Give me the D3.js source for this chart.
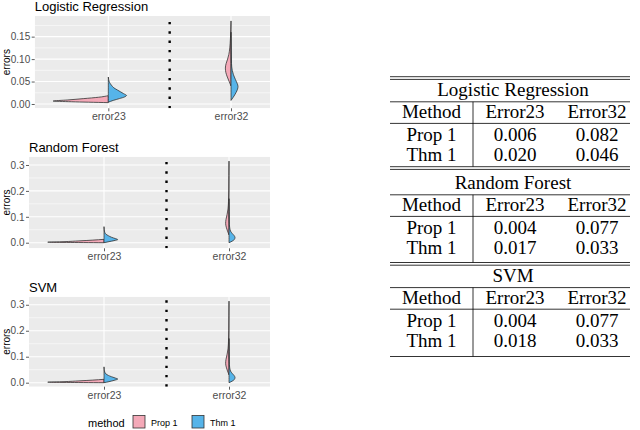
<!DOCTYPE html>
<html>
<head>
<meta charset="utf-8">
<script src="https://cdn.jsdelivr.net/npm/d3@7"></script>
<style>
  body { margin: 0; background: #fff; }
</style>
</head>
<body>
<div id="chart"></div>
<script>
const W = 640, H = 430;

const panelTitles = ["Logistic Regression", "Random Forest", "SVM"];
const categories = ["error23", "error32"];
const methods = ["Prop 1", "Thm 1"];
const lrTicks = [0, 0.05, 0.10, 0.15];
const rfTicks = [0, 0.1, 0.2, 0.3];
const svmTicks = [0, 0.1, 0.2, 0.3];

// violin halves: [errors, half width in category units]
const lrProp23 = [[0.003, 0], [0.005, 0.3], [0.0065, 0.45], [0.009, 0.33], [0.012, 0.2], [0.015, 0.08], [0.0185, 0]];
const lrThm23 = [[0.004, 0], [0.008, 0.04], [0.012, 0.09], [0.016, 0.135], [0.019, 0.148], [0.023, 0.125], [0.027, 0.1],
                 [0.031, 0.075], [0.036, 0.045], [0.042, 0.025], [0.048, 0.01], [0.054, 0.003], [0.06, 0]];
const lrProp32 = [[0.04, 0], [0.05, 0.015], [0.06, 0.03], [0.07, 0.042], [0.08, 0.046], [0.09, 0.04], [0.1, 0.028],
                  [0.11, 0.018], [0.125, 0.01], [0.145, 0.005], [0.165, 0.002], [0.185, 0]];
const lrThm32 = [[0.008, 0], [0.015, 0.018], [0.025, 0.04], [0.033, 0.053], [0.039, 0.057], [0.046, 0.05], [0.055, 0.035],
                 [0.065, 0.02], [0.075, 0.01], [0.09, 0.004], [0.12, 0.0015], [0.16, 0]];

const rfProp23 = [[0, 0], [0.001, 0.3], [0.002, 0.45], [0.004, 0.32], [0.007, 0.2], [0.01, 0.09], [0.013, 0]];
const rfThm23 = [[0, 0], [0.004, 0.04], [0.008, 0.08], [0.012, 0.11], [0.016, 0.09], [0.021, 0.06], [0.027, 0.035],
                 [0.033, 0.015], [0.04, 0.006], [0.05, 0.002], [0.062, 0]];
const rfProp32 = [[0.03, 0], [0.045, 0.012], [0.06, 0.022], [0.075, 0.027], [0.09, 0.024], [0.11, 0.015], [0.13, 0.008],
                  [0.16, 0.004], [0.2, 0.002], [0.26, 0.001], [0.315, 0]];
const rfThm32 = [[0, 0], [0.006, 0.025], [0.012, 0.042], [0.02, 0.048], [0.028, 0.04], [0.036, 0.025], [0.045, 0.012],
                 [0.06, 0.005], [0.08, 0.002], [0.12, 0.001], [0.17, 0]];

const svmProp23 = [[0, 0], [0.001, 0.3], [0.002, 0.45], [0.004, 0.32], [0.007, 0.2], [0.01, 0.09], [0.013, 0]];
const svmThm23 = [[0, 0], [0.004, 0.04], [0.009, 0.08], [0.014, 0.11], [0.018, 0.09], [0.023, 0.06], [0.028, 0.035],
                  [0.034, 0.015], [0.041, 0.006], [0.05, 0.002], [0.061, 0]];
const svmProp32 = [[0.03, 0], [0.045, 0.012], [0.06, 0.022], [0.075, 0.027], [0.09, 0.024], [0.11, 0.015], [0.13, 0.008],
                   [0.16, 0.004], [0.2, 0.002], [0.26, 0.001], [0.314, 0]];
const svmThm32 = [[0, 0], [0.006, 0.025], [0.012, 0.042], [0.02, 0.048], [0.028, 0.04], [0.036, 0.025], [0.045, 0.012],
                  [0.06, 0.005], [0.08, 0.002], [0.12, 0.001], [0.17, 0]];

// table
const tableMethods = ["Prop 1", "Thm 1"];
const tableHeader = ["Method", "Error23", "Error32"];
const lrErr23 = [0.006, 0.020], lrErr32 = [0.082, 0.046];
const rfErr23 = [0.004, 0.017], rfErr32 = [0.077, 0.033];
const svmErr23 = [0.004, 0.018], svmErr32 = [0.077, 0.033];

const SANS = "'Liberation Sans', Arial, sans-serif";
const SERIF = "'Liberation Serif', 'Times New Roman', serif";
const FILLS = ["#F4A9B8", "#56B4E9"];
const PANEL_RIGHT = 270;

const PANELS = [
  {title: panelTitles[0], ticks: lrTicks, fmt: ".2f", yDomain: [-0.0096, 0.196], top: 16, bottom: 108.3, left: 34.7, unit: 122.7,
   violins: [[lrProp23, lrThm23], [lrProp32, lrThm32]]},
  {title: panelTitles[1], ticks: rfTicks, fmt: ".1f", yDomain: [-0.0216, 0.332], top: 156.7, bottom: 248.3, left: 29, unit: 125,
   violins: [[rfProp23, rfThm23], [rfProp32, rfThm32]]},
  {title: panelTitles[2], ticks: svmTicks, fmt: ".1f", yDomain: [-0.0154, 0.331], top: 296.7, bottom: 386.7, left: 29, unit: 125,
   violins: [[svmProp23, svmThm23], [svmProp32, svmThm32]]}
];

const svg = d3.select("#chart").append("svg")
    .attr("width", W)
    .attr("height", H);

PANELS.forEach((p, i) => {
  const x = d3.scaleLinear().domain([0.4, 2.6]).range([p.left, p.left + 2.2 * p.unit]);
  const y = d3.scaleLinear().domain(p.yDomain).range([p.bottom, p.top]);
  const g = svg.append("g");

  g.append("clipPath").attr("id", "clip" + i)
    .append("rect")
      .attr("x", x(0.4)).attr("y", p.top)
      .attr("width", PANEL_RIGHT - x(0.4)).attr("height", p.bottom - p.top);

  const panel = g.append("g").attr("clip-path", `url(#clip${i})`);
  panel.append("rect")
      .attr("x", x(0.4)).attr("y", p.top)
      .attr("width", PANEL_RIGHT - x(0.4)).attr("height", p.bottom - p.top)
      .attr("fill", "#EBEBEB");

  // grid
  const step = p.ticks[1] - p.ticks[0];
  const minor = p.ticks.map(t => t + step / 2).filter(t => t < p.yDomain[1]);
  panel.selectAll(".minor").data(minor).enter().append("line")
      .attr("x1", x(0.4)).attr("x2", PANEL_RIGHT)
      .attr("y1", d => y(d)).attr("y2", d => y(d))
      .attr("stroke", "#fff").attr("stroke-width", 0.55);
  panel.selectAll(".major").data(p.ticks).enter().append("line")
      .attr("x1", x(0.4)).attr("x2", PANEL_RIGHT)
      .attr("y1", d => y(d)).attr("y2", d => y(d))
      .attr("stroke", "#fff").attr("stroke-width", 1.1);
  panel.selectAll(".vmajor").data([1, 2]).enter().append("line")
      .attr("x1", d => x(d)).attr("x2", d => x(d))
      .attr("y1", p.top).attr("y2", p.bottom)
      .attr("stroke", "#fff").attr("stroke-width", 1.1);

  // split violins
  p.violins.forEach((pair, c) => {
    pair.forEach((prof, m) => {
      const side = m === 0 ? -1 : 1;
      const area = d3.area()
          .curve(d3.curveMonotoneY)
          .y(d => y(d[0]))
          .x0(x(c + 1))
          .x1(d => x(c + 1 + side * d[1]));
      panel.append("path")
          .datum(prof)
          .attr("d", area)
          .attr("fill", FILLS[m])
          .attr("stroke", "#333")
          .attr("stroke-width", 0.8)
          .attr("stroke-linejoin", "round");
    });
  });

  // dotted separator
  panel.append("line")
      .attr("x1", x(1.5)).attr("x2", x(1.5))
      .attr("y1", p.bottom).attr("y2", p.top)
      .attr("stroke", "#000")
      .attr("stroke-width", 2.4)
      .attr("stroke-dasharray", "2.4 6.93");

  // axes
  const yAxis = g.append("g")
      .attr("transform", `translate(${x(0.4)},0)`)
      .call(d3.axisLeft(y).tickValues(p.ticks).tickFormat(d3.format(p.fmt)).tickSize(3).tickPadding(1.5));
  const xAxis = g.append("g")
      .attr("transform", `translate(0,${p.bottom})`)
      .call(d3.axisBottom(x).tickValues([1, 2]).tickFormat(d => categories[d - 1]).tickSize(3).tickPadding(1.5));
  [yAxis, xAxis].forEach(a => {
    a.select(".domain").remove();
    a.selectAll(".tick line").attr("stroke", "#333").attr("stroke-width", 0.8);
    a.selectAll(".tick text")
        .attr("fill", "#4D4D4D")
        .attr("font-family", SANS)
        .attr("font-size", "10px");
  });
  xAxis.selectAll(".tick text").attr("font-size", "10.5px");

  g.append("text")
      .attr("transform", `translate(9.5,${(p.top + p.bottom) / 2}) rotate(-90)`)
      .attr("text-anchor", "middle")
      .attr("font-family", SANS)
      .attr("font-size", "10px")
      .text("errors");

  g.append("text")
      .attr("x", x(0.4))
      .attr("y", p.top - 5)
      .attr("font-family", SANS)
      .attr("font-size", "13px")
      .text(p.title);
});

// legend
const legend = svg.append("g");
legend.append("text")
    .attr("x", 88).attr("y", 427)
    .attr("font-family", SANS).attr("font-size", "11px")
    .text("method");
const keyX = [133, 192];
methods.forEach((m, i) => {
  legend.append("rect")
      .attr("x", keyX[i]).attr("y", 415.5)
      .attr("width", 12).attr("height", 12.5)
      .attr("fill", FILLS[i])
      .attr("stroke", "#333").attr("stroke-width", 0.8);
  legend.append("text")
      .attr("x", keyX[i] + 18).attr("y", 426)
      .attr("font-family", SANS).attr("font-size", "9px")
      .text(m);
});

// table
const TX0 = 390, TX1 = 630, TSEP = 473;
const colX = [431.5, 515, 597];
const blocks = [
  {title: panelTitles[0], e23: lrErr23, e32: lrErr32, top: 76.7, dy: 0},
  {title: panelTitles[1], e23: rfErr23, e32: rfErr32, top: 166.7, dy: 3},
  {title: panelTitles[2], e23: svmErr23, e32: svmErr32, top: 262.5, dy: 0}
];
const fmt3 = d3.format(".3f");
const tbl = svg.append("g").attr("font-family", SERIF).attr("font-size", "19px").attr("text-anchor", "middle");

function hline(yy) {
  tbl.append("line").attr("x1", TX0).attr("x2", TX1).attr("y1", yy).attr("y2", yy)
      .attr("stroke", "#000").attr("stroke-width", 0.8);
}

blocks.forEach((b, k) => {
  const s = b.top + 2.7;
  hline(b.top);
  hline(s);
  tbl.append("text").attr("x", 513).attr("y", s + 16.7 + b.dy).text(b.title);
  hline(s + 22.4 + b.dy);
  tableHeader.forEach((h, j) => {
    tbl.append("text").attr("x", colX[j]).attr("y", s + 39 + b.dy).text(h);
  });
  hline(s + 44 + b.dy);
  tableMethods.forEach((m, r) => {
    const yy = s + 61.4 + r * 20 + b.dy;
    tbl.append("text").attr("x", colX[0]).attr("y", yy).text(m);
    tbl.append("text").attr("x", colX[1]).attr("y", yy).text(fmt3(b.e23[r]));
    tbl.append("text").attr("x", colX[2]).attr("y", yy).text(fmt3(b.e32[r]));
  });
  const end = k === blocks.length - 1 ? 356.5 : blocks[k + 1].top;
  tbl.append("line").attr("x1", TSEP).attr("x2", TSEP)
      .attr("y1", s + 22.4 + b.dy).attr("y2", end)
      .attr("stroke", "#000").attr("stroke-width", 0.8);
});
hline(356.5);
</script>
</body>
</html>
